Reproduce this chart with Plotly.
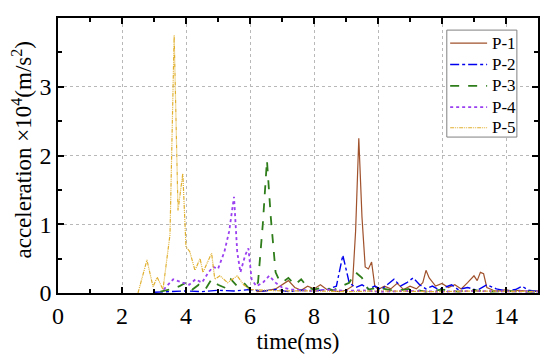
import plotly.graph_objects as go

# P-1 (brown, solid)
p1_t = [6.2, 6.5, 6.8, 7.0, 7.2, 7.4, 7.6, 7.8, 8.0, 8.2, 8.4, 8.6, 8.8, 9.0, 9.2, 9.3, 9.4, 9.5, 9.6, 9.7, 9.8, 9.9, 10.0,
        10.2, 10.4, 10.6, 10.8, 11.0, 11.2, 11.4, 11.5, 11.6, 11.8, 12.0, 12.2, 12.4, 12.6, 12.8, 13.0, 13.1, 13.2, 13.3, 13.4,
        13.6, 13.8, 14.0, 14.2, 14.4, 14.6, 14.8, 15.0]
p1_a = [0.02, 0.03, 0.06, 0.12, 0.18, 0.08, 0.04, 0.1, 0.06, 0.12, 0.05, 0.03, 0.02, 0.04, 0.1, 0.9, 2.25, 1.1, 0.38, 0.35, 0.45, 0.1, 0.05,
        0.1, 0.06, 0.14, 0.05, 0.1, 0.06, 0.15, 0.33, 0.22, 0.1, 0.14, 0.08, 0.12, 0.06, 0.15, 0.25, 0.18, 0.3, 0.28, 0.08,
        0.04, 0.03, 0.05, 0.02, 0.04, 0.03, 0.02, 0.03]

# P-2 (blue, dash-dot)
p2_t = [3.0, 3.5, 4.0, 4.5, 5.0, 5.5, 6.0, 6.4, 6.8, 7.2, 7.6, 8.0, 8.4, 8.7, 8.9, 9.0, 9.1, 9.3, 9.5, 9.7, 9.9, 10.1, 10.3,
        10.5, 10.7, 10.9, 11.1, 11.3, 11.5, 11.7, 11.9, 12.1, 12.3, 12.5, 12.8, 13.1, 13.4, 13.7, 14.0, 14.3, 14.5, 14.7, 15.0]
p2_a = [0.01, 0.02, 0.03, 0.02, 0.04, 0.03, 0.05, 0.03, 0.05, 0.02, 0.04, 0.03, 0.05, 0.1, 0.55, 0.35, 0.15, 0.08, 0.12, 0.06, 0.1, 0.05, 0.12,
        0.2, 0.1, 0.15, 0.22, 0.12, 0.06, 0.1, 0.05, 0.08, 0.12, 0.05, 0.08, 0.04, 0.12, 0.06, 0.03, 0.05, 0.1, 0.04, 0.02]

# P-3 (green, dashed)
p3_t = [3.2, 3.5, 3.8, 4.0, 4.2, 4.4, 4.6, 4.8, 5.0, 5.2, 5.4, 5.6, 5.8, 6.0, 6.1, 6.25, 6.4, 6.53, 6.65, 6.8, 6.9, 7.0,
        7.2, 7.4, 7.6, 7.8, 8.0, 8.3, 8.6, 8.9, 9.1, 9.3, 9.5, 9.7, 10.0, 10.5, 11.0, 11.5, 12.0, 12.5, 13.0, 13.5, 14.0, 14.5, 15.0]
p3_a = [0.02, 0.05, 0.1, 0.15, 0.05, 0.12, 0.05, 0.2, 0.12, 0.08, 0.2, 0.1, 0.15, 0.05, 0.08, 0.15, 1.0, 1.93, 1.1, 0.3, 0.2, 0.15,
        0.22, 0.12, 0.2, 0.08, 0.05, 0.08, 0.04, 0.1, 0.15, 0.3, 0.22, 0.05, 0.08, 0.03, 0.06, 0.02, 0.05, 0.02, 0.04, 0.02, 0.03, 0.02, 0.02]

# P-4 (purple, dotted)
p4_t = [3.3, 3.6, 3.9, 4.1, 4.3, 4.5, 4.7, 4.85, 5.0, 5.2, 5.35, 5.5, 5.6, 5.7, 5.85, 5.95, 6.05, 6.2, 6.4, 6.6, 6.8, 7.0,
        7.3, 7.6, 8.0, 8.5, 9.0, 9.5, 10.0, 11.0, 12.0, 13.0, 14.0, 15.0]
p4_a = [0.05, 0.2, 0.15, 0.12, 0.2, 0.15, 0.3, 0.38, 0.35, 0.6, 0.9, 1.4, 0.6, 0.3, 0.55, 0.65, 0.2, 0.1, 0.15, 0.25, 0.15, 0.08,
        0.05, 0.04, 0.03, 0.05, 0.03, 0.04, 0.02, 0.03, 0.02, 0.03, 0.02, 0.02]

# P-5 (yellow, dash-dot-dot)
p5_t = [2.5, 2.78, 2.97, 3.1, 3.28, 3.5, 3.63, 3.75, 3.9, 4.0, 4.12, 4.28, 4.44, 4.53, 4.8, 4.9, 5.06, 5.3, 5.6, 5.8, 6.0,
        6.5, 7.0, 8.0, 9.0, 10.0, 11.0, 12.0, 13.0, 14.0, 15.0]
p5_a = [0.0, 0.48, 0.09, 0.23, 0.05, 0.85, 3.75, 1.2, 1.74, 0.67, 0.6, 0.33, 0.5, 0.3, 0.58, 0.2, 0.25, 0.15, 0.25, 0.12, 0.05,
        0.04, 0.03, 0.03, 0.02, 0.03, 0.02, 0.02, 0.03, 0.02, 0.02]

names = ["P-1", "P-2", "P-3", "P-4", "P-5"]
series = [(p1_t, p1_a), (p2_t, p2_a), (p3_t, p3_a), (p4_t, p4_a), (p5_t, p5_a)]
colors = ["#a0522d", "#0000ee", "#2e7d1a", "#9a40f0", "#e0b030"]
dashes = ["solid", "dashdot", "dash", "dot", "4px,1px,1px,1px,1px,1px"]
widths = [1.2, 1.4, 1.8, 1.8, 1.2]

fig = go.Figure()
for n, (t, a), c, d, w in zip(names, series, colors, dashes, widths):
    fig.add_trace(go.Scatter(x=t, y=a, mode="lines", name=n, showlegend=False,
                             line=dict(color=c, dash=d, width=w)))

font = "Liberation Serif"

# hand-built legend (paper coordinates) to match the compact reference box
leg_x0, leg_x1, leg_y0, leg_y1 = 0.810, 0.956, 0.567, 0.956
row_y = [0.909, 0.831, 0.753, 0.676, 0.601]
fig.add_shape(type="rect", xref="paper", yref="paper", x0=leg_x0, x1=leg_x1, y0=leg_y0, y1=leg_y1,
              line=dict(color="#808080", width=1), fillcolor="white", layer="above")
for n, c, d, w, ry in zip(names, colors, dashes, widths, row_y):
    fig.add_shape(type="line", xref="paper", yref="paper", x0=0.817, x1=0.894, y0=ry, y1=ry,
                  line=dict(color=c, dash=d, width=w), layer="above")
    fig.add_annotation(xref="paper", yref="paper", x=0.899, y=ry, text=n, showarrow=False,
                       xanchor="left", yanchor="middle",
                       font=dict(family=font, size=17, color="black"))

# y-axis title placed as in the reference
fig.add_annotation(xref="paper", yref="paper", x=-0.076, y=0.52, textangle=-90,
                   text="acceleration ×10<sup>4</sup>(m/s<sup>2</sup>)", showarrow=False,
                   xanchor="center", yanchor="middle",
                   font=dict(family=font, size=23, color="black"))

axis_common = dict(
    showline=True, linecolor="black", linewidth=1.5, mirror="ticks",
    ticks="inside", ticklen=6, tickwidth=1.5, tickcolor="black",
    showgrid=True, gridcolor="#b8b8b8", griddash="dot", gridwidth=1,
    zeroline=False, tickfont=dict(family=font, size=24, color="black"),
)
fig.update_xaxes(range=[0, 15], dtick=2, tick0=0,
                 minor=dict(ticks="inside", dtick=1, ticklen=4, tickcolor="black", showgrid=False),
                 title=dict(text="time(ms)", font=dict(family=font, size=23, color="black"), standoff=0),
                 **axis_common)
fig.update_yaxes(range=[0, 4], dtick=1, tick0=0,
                 minor=dict(ticks="inside", dtick=0.5, ticklen=4, tickcolor="black", showgrid=False),
                 **axis_common)
fig.update_layout(
    width=542, height=348,
    margin=dict(l=50, r=12, t=10, b=63, autoexpand=False),
    plot_bgcolor="white", paper_bgcolor="white",
    showlegend=False,
)
fig.write_html("out.html")
